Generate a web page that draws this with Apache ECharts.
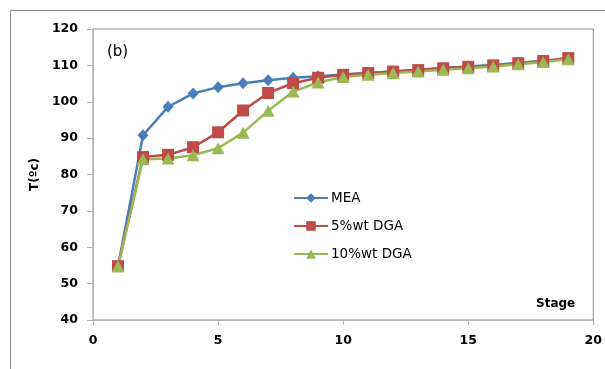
<!DOCTYPE html>
<html>
<head>
<meta charset="utf-8">
<script src="https://cdn.jsdelivr.net/npm/echarts@6/dist/echarts.min.js"></script>
<style>
  html, body { margin: 0; padding: 0; background: #fff; }
  #chart { width: 605px; height: 369px; }
</style>
</head>
<body>
<div id="chart"></div>
<script>
// Temperature profile along the column stages
const stages = [1, 2, 3, 4, 5, 6, 7, 8, 9, 10, 11, 12, 13, 14, 15, 16, 17, 18, 19];
const mea    = [54.8, 90.8, 98.6, 102.3, 104.0, 105.1, 105.9, 106.6, 107.0, 107.5, 107.9, 108.3, 108.8, 109.3, 109.7, 110.1, 110.7, 111.2, 111.9];
const dga5   = [54.8, 84.8, 85.4, 87.5, 91.6, 97.6, 102.4, 105.1, 106.6, 107.4, 107.9, 108.3, 108.7, 109.2, 109.6, 110.0, 110.6, 111.2, 112.0];
const dga10  = [54.8, 84.2, 84.4, 85.3, 87.2, 91.5, 97.5, 102.8, 105.3, 106.8, 107.4, 107.9, 108.3, 108.8, 109.2, 109.7, 110.3, 110.9, 111.7];
const seriesNames = ['MEA', '5%wt DGA', '10%wt DGA'];

const FONT = 'DejaVu Sans';
const pair = (vals) => stages.map((s, i) => [s, vals[i]]);

const chart = echarts.init(document.getElementById('chart'), null, { renderer: 'canvas' });
chart.setOption({
  animation: false,
  backgroundColor: '#fff',
  textStyle: { fontFamily: FONT },
  grid: {
    left: 93, top: 29, right: 10, bottom: 49,
    show: true, borderColor: '#8c8c8c', borderWidth: 1
  },
  graphic: [
    {
      type: 'rect', silent: true, z: -1,
      shape: { x: 10.5, y: 10.5, width: 620, height: 400 },
      style: { fill: 'none', stroke: '#8c8c8c', lineWidth: 1 }
    },
    {
      type: 'text', left: 107, top: 45,
      style: { text: '(b)', font: '15px ' + FONT, fill: '#000' }
    },
    {
      type: 'text', left: 536, top: 298,
      style: { text: 'Stage', font: 'bold 12px ' + FONT, fill: '#000' }
    }
  ],
  legend: {
    orient: 'vertical',
    left: 288, top: 186,
    itemWidth: 34, itemHeight: 12, itemGap: 14,
    textStyle: { fontFamily: FONT, fontSize: 13.5, color: '#000', padding: [0, 0, 0, -2] },
    data: seriesNames
  },
  xAxis: {
    type: 'value', min: 0, max: 20, interval: 5,
    axisLine: { lineStyle: { color: '#b4b4b4', width: 1 } },
    axisTick: { show: true, length: 5, lineStyle: { color: '#b4b4b4' } },
    axisLabel: { margin: 14, fontFamily: FONT, fontWeight: 'bold', fontSize: 12.5, color: '#000' },
    splitLine: { show: false }
  },
  yAxis: {
    type: 'value', min: 40, max: 120, interval: 10,
    name: 'T(ºc)', nameLocation: 'middle', nameGap: 51, nameRotate: 90,
    nameTextStyle: { fontFamily: FONT, fontWeight: 'bold', fontSize: 12, color: '#000' },
    axisLine: { show: true, lineStyle: { color: '#b4b4b4', width: 1 } },
    axisTick: { show: true, length: 6, lineStyle: { color: '#b4b4b4' } },
    axisLabel: { margin: 15, fontFamily: FONT, fontWeight: 'bold', fontSize: 12.5, color: '#000' },
    splitLine: { show: false }
  },
  series: [
    {
      name: seriesNames[0], type: 'line', data: pair(mea),
      symbol: 'diamond', symbolSize: [11, 12],
      lineStyle: { color: '#4a7ebb', width: 2.5 },
      itemStyle: { color: '#4a7ebb' }
    },
    {
      name: seriesNames[1], type: 'line', data: pair(dga5),
      symbol: 'rect', symbolSize: 12,
      lineStyle: { color: '#be4b48', width: 2.5 },
      itemStyle: { color: '#be4b48' }
    },
    {
      name: seriesNames[2], type: 'line', data: pair(dga10),
      symbol: 'triangle', symbolSize: [13, 12],
      lineStyle: { color: '#98b954', width: 2.5 },
      itemStyle: { color: '#98b954' }
    }
  ]
});
</script>
</body>
</html>
